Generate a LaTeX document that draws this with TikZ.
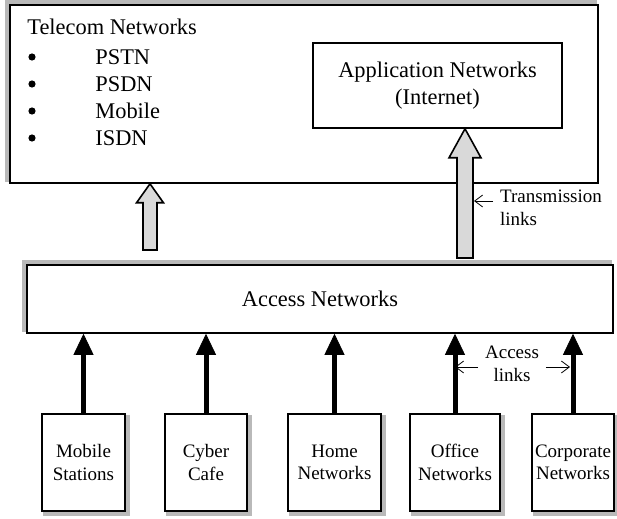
\documentclass[tikz,border=0pt]{standalone}
\usepackage{fontspec}
\setmainfont{Liberation Serif}
\usetikzlibrary{arrows.meta,calc,backgrounds}

\tikzset{
  bigfont/.style={font=\fontsize{11.2}{13.5}\selectfont},
  smallfont/.style={font=\fontsize{9.5}{11.2}\selectfont},
  netbox/.style={draw, thick, fill=white, inner sep=0pt},
  sitebox/.style={netbox, smallfont, align=center, minimum height=48.5pt},
  scanshade/.style={fill=gray!55},
  bulletdot/.style={circle, fill=black, inner sep=0pt, minimum size=3.6pt},
  link/.style={line width=2.5pt, -{Triangle[width=10pt,length=10.5pt,line width=0.4pt]}},
  pointer/.style={thin, -{Straight Barb[width=6pt,length=4pt]}},
  bigarrow/.style={draw, thick, fill=gray!30},
}

% #1 foot, #2 tip, #3 half shaft, #4 half head, #5 head length
\newcommand{\blockarrow}[5]{%
  \draw[bigarrow] ($(#1)+(-#3,0)$) -- ($(#2)+(-#3,#5)$) -- ($(#2)+(-#4,#5)$) -- (#2)
    -- ($(#2)+(#4,#5)$) -- ($(#2)+(#3,#5)$) -- ($(#1)+(#3,0)$) -- cycle;}

\begin{document}
\begin{tikzpicture}[x=0.5pt, y=-0.5pt]
  \useasboundingbox (0,0) rectangle (617,519);

  % upper part
  \node[netbox, minimum width=294pt, minimum height=89pt] (telecom) at (304,94) {};
  \node[bigfont, anchor=west, inner sep=0pt] (telecomtitle) at (27,27) {Telecom Networks};
  \foreach \netname [count=\i] in {PSTN,PSDN,Mobile,ISDN} {
    \node[bulletdot] (dot\i) at (32,30+27*\i) {};
    \node[bigfont, anchor=west, inner sep=0pt] (net\i) at (95,30+27*\i) {\netname};
  }
  \node[netbox, bigfont, align=center, minimum width=124.5pt, minimum height=42.5pt] (app) at (437.5,85.5) {Application Networks\\(Internet)};

  % access
  \node[netbox, bigfont, minimum width=293pt, minimum height=34pt] (access) at (320,299) {Access Networks};

  % sites
  \foreach \name/\txt/\x/\w in {mobile/{Mobile\\Stations}/83.5/41.5, cyber/{Cyber\\Cafe}/206/41,
      home/{Home\\Networks}/334.5/46.5, office/{Office\\Networks}/455/45, corporate/{Corporate\\Networks}/573/41}
    \node[sitebox, minimum width=\w pt] (\name) at (\x,462.5) {\txt};

  % scanned shadows
  \begin{scope}[on background layer]
    \foreach \boxname in {telecom,app,access}
      \fill[scanshade] ($(\boxname.north west)+(-4,-4)$) rectangle ($(\boxname.south east)+(-2,-2)$);
    \foreach \boxname in {mobile,cyber,home,office,corporate}
      \fill[scanshade] ($(\boxname.north west)+(2,2)$) rectangle ($(\boxname.south east)+(4,4)$);
  \end{scope}

  \foreach \name in {mobile,cyber,home,office,corporate}
    \draw[link] (\name.north) -- (\name.north |- access.south);

  % transmission links
  \coordinate (tfoot) at (150,250);
  \coordinate (ttip) at (tfoot |- telecom.south);
  \blockarrow{tfoot}{ttip}{7}{13.5}{19}
  \coordinate (afoot) at (465,258);
  \coordinate (atip) at (afoot |- app.south);
  \blockarrow{afoot}{atip}{8}{16}{29}

  \node[smallfont, align=left] (translabel) at (551,208) {Transmission\\links};
  \coordinate (tlink) at (474,201);
  \draw[pointer] (translabel.west |- tlink) -- (tlink);

  \node[smallfont, align=center] (acclabel) at (512,364) {Access\\links};
  \coordinate (alinkl) at (455,367);
  \coordinate (alinkr) at (570,367);
  \draw[pointer] (acclabel.west |- alinkl) -- (alinkl);
  \draw[pointer] (acclabel.east |- alinkr) -- (alinkr);
\end{tikzpicture}
\end{document}
